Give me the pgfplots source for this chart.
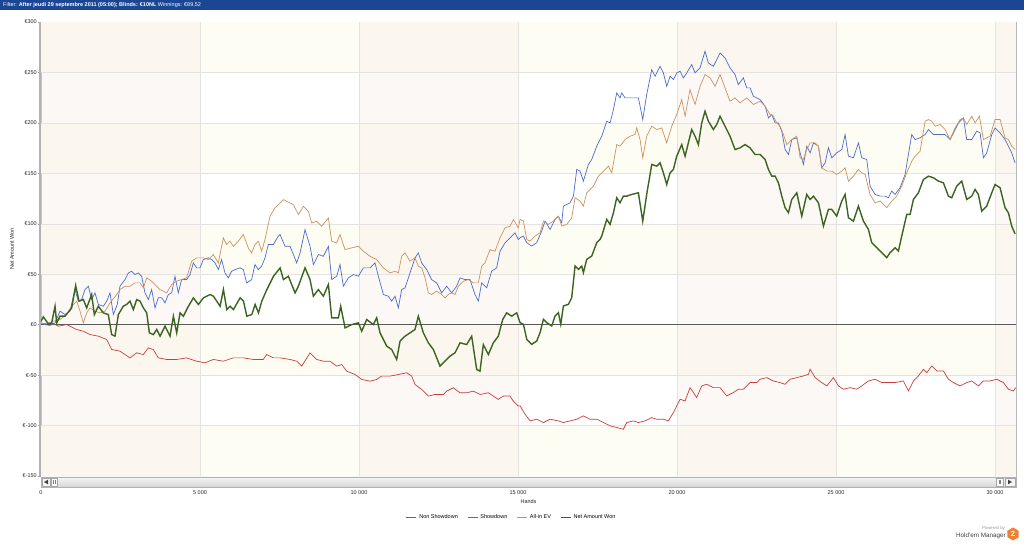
\documentclass[border=0pt]{standalone}
\usepackage{pgfplots}
\pgfplotsset{compat=1.18}
\usepackage{fontspec}
\setmainfont{Liberation Sans}
\definecolor{hdr}{RGB}{26,70,148}
\definecolor{creamband}{RGB}{253,253,243}
\definecolor{pinkcol}{RGB}{247,232,226}
\definecolor{gridc}{RGB}{228,227,226}
\definecolor{cRed}{RGB}{200,62,62}
\definecolor{cBlue}{RGB}{74,108,203}
\definecolor{cOrange}{RGB}{205,145,96}
\definecolor{cGreen}{RGB}{59,100,32}
\definecolor{hmorange}{RGB}{238,128,48}
\begin{document}
\begin{tikzpicture}[x=1pt,y=1pt]
\fill[white] (0,0) rectangle (1024,543);
\fill[hdr] (0,533) rectangle (1024,543);
\node[anchor=west, text=white, font=\fontsize{5.5}{6}\selectfont, inner sep=0] at (3,538) {Filter: \textbf{After jeudi 29 septembre 2011 (05:00); Blinds: €10NL} Winnings: €89,52};
\begin{axis}[
  at={(41pt,67pt)}, anchor=south west, scale only axis,
  width=975pt, height=454pt,
  xmin=0, xmax=30660, ymin=-150, ymax=300,
  scaled x ticks=false, scaled y ticks=false,
  axis line style={draw=black!28, line width=0.8pt},
  xtick pos=bottom, ytick pos=left,
  xtick={0,5000,10000,15000,20000,25000,30000},
  xticklabels={0,{5 000},{10 000},{15 000},{20 000},{25 000},{30 000}},
  ytick={-150,-100,-50,0,50,100,150,200,250,300},
  yticklabels={€-150,€-100,€-50,€0,€50,€100,€150,€200,€250,€300},
  tick align=outside, major tick length=3pt,
  xtick style={draw=none},
  ytick style={draw=black!40, line width=0.5pt},
  ticklabel style={font=\fontsize{5.5}{6}\selectfont, text=black!85},
  xticklabel style={yshift=-8.5pt},
  yticklabel style={inner sep=1pt},
  xlabel={Hands}, ylabel={Net Amount Won},
  label style={font=\fontsize{5.5}{6}\selectfont, text=black!85},
  xlabel style={at={(axis description cs:0.5,-0.0566)}, anchor=center},
  ylabel style={at={(axis description cs:-0.0297,0.5)}, anchor=center},
  legend style={at={(axis description cs:0.4826,-0.0918)}, anchor=center, draw=none, fill=none,
    font=\fontsize{5.5}{6}\selectfont, legend columns=4,
    /tikz/every even column/.append style={column sep=7pt}},
  legend image code/.code={\draw[mark repeat=2,mark phase=2,#1] plot coordinates {(0pt,0pt) (10pt,0pt)};},
  legend image post style={line width=1.6pt},
]
\fill[creamband] (axis cs:0,250) rectangle (axis cs:30660,300);
\fill[creamband] (axis cs:0,150) rectangle (axis cs:30660,200);
\fill[creamband] (axis cs:0,50) rectangle (axis cs:30660,100);
\fill[creamband] (axis cs:0,-50) rectangle (axis cs:30660,0);
\fill[creamband] (axis cs:0,-150) rectangle (axis cs:30660,-100);
\fill[pinkcol, opacity=0.28] (axis cs:0,-150) rectangle (axis cs:5000,300);
\fill[pinkcol, opacity=0.28] (axis cs:10000,-150) rectangle (axis cs:15000,300);
\fill[pinkcol, opacity=0.28] (axis cs:20000,-150) rectangle (axis cs:25000,300);
\fill[pinkcol, opacity=0.28] (axis cs:30000,-150) rectangle (axis cs:30660,300);
\draw[gridc, line width=0.5pt] (axis cs:0,-100) -- (axis cs:30660,-100);
\draw[gridc, line width=0.5pt] (axis cs:0,-50) -- (axis cs:30660,-50);
\draw[gridc, line width=0.5pt] (axis cs:0,50) -- (axis cs:30660,50);
\draw[gridc, line width=0.5pt] (axis cs:0,100) -- (axis cs:30660,100);
\draw[gridc, line width=0.5pt] (axis cs:0,150) -- (axis cs:30660,150);
\draw[gridc, line width=0.5pt] (axis cs:0,200) -- (axis cs:30660,200);
\draw[gridc, line width=0.5pt] (axis cs:0,250) -- (axis cs:30660,250);
\draw[gridc, line width=0.6pt] (axis cs:5000,-150) -- (axis cs:5000,300);
\draw[gridc, line width=0.6pt] (axis cs:10000,-150) -- (axis cs:10000,300);
\draw[gridc, line width=0.6pt] (axis cs:15000,-150) -- (axis cs:15000,300);
\draw[gridc, line width=0.6pt] (axis cs:20000,-150) -- (axis cs:20000,300);
\draw[gridc, line width=0.6pt] (axis cs:25000,-150) -- (axis cs:25000,300);
\draw[gridc, line width=0.6pt] (axis cs:30000,-150) -- (axis cs:30000,300);
\draw[black!65, line width=1.5pt] (axis cs:0,0) -- (axis cs:30660,0);

\addplot[cRed, line width=0.7pt] coordinates {(0,1.1)(388,1.1)(545,-1.5)(807,0.1)(1122,-4.8)(1331,-6.5)(1541,-9.8)(1803,-11.4)(2065,-14.7)(2222,-24.6)(2484,-26.3)(2799,-32.9)(3009,-27.9)(3219,-29.6)(3375,-23)(3532,-24.6)(3689,-32.9)(3951,-34.5)(4266,-34.5)(4580,-32.9)(4895,-36.2)(5157,-37.8)(5419,-34.5)(5733,-36.2)(6047,-32.9)(6362,-32.9)(6676,-34.5)(6991,-34.5)(7095,-29.6)(7305,-32.9)(7517,-32.9)(7831,-34.5)(8041,-36.2)(8198,-41.1)(8460,-27.9)(8670,-34.5)(8879,-36.2)(9089,-36.2)(9299,-41.1)(9456,-39.5)(9613,-46.1)(9875,-49.4)(10085,-54.3)(10347,-56)(10556,-54.3)(10713,-51)(10975,-51)(11237,-49.4)(11499,-47.7)(11657,-51)(11761,-59.3)(11971,-64.2)(12181,-70.8)(12390,-69.2)(12652,-69.2)(12757,-65.9)(12967,-62.6)(13176,-67.5)(13386,-67.5)(13595,-65.9)(13805,-69.2)(14067,-67.5)(14224,-70.8)(14381,-74.1)(14539,-70.8)(14748,-70.8)(14853,-75.8)(15010,-80.7)(15065,-80.5)(15222,-88.8)(15379,-95.4)(15589,-93.7)(15799,-97)(16008,-93.7)(16270,-95.4)(16427,-97)(16637,-95.4)(16847,-93.7)(17056,-90.4)(17266,-93.7)(17475,-93.7)(17685,-97)(17895,-100.3)(18104,-101.9)(18314,-103.6)(18419,-97)(18628,-95.4)(18785,-97)(18995,-95.4)(19205,-92.1)(19362,-93.7)(19571,-93.7)(19729,-95.4)(19886,-87.1)(19991,-80.5)(20095,-73.9)(20253,-75.6)(20410,-62.4)(20515,-67.3)(20619,-72.3)(20777,-60.7)(20934,-59.1)(21143,-62.4)(21353,-62.4)(21563,-70.6)(21772,-67.3)(21929,-64)(22087,-64)(22296,-57.4)(22506,-57.4)(22613,-54.1)(22823,-52.5)(23032,-55.8)(23242,-57.4)(23399,-59.1)(23556,-54.1)(23766,-52.5)(23975,-50.8)(24133,-49.2)(24185,-44.2)(24342,-52.5)(24552,-57.4)(24709,-60.7)(24919,-52.5)(25076,-60.7)(25233,-64)(25443,-62.4)(25652,-64)(25809,-60.7)(26019,-55.8)(26229,-54.1)(26438,-57.4)(26648,-57.4)(26857,-57.4)(27119,-55.8)(27277,-65.7)(27434,-55.8)(27591,-50.8)(27748,-44.2)(27853,-47.5)(28010,-40.9)(28167,-45.9)(28377,-45.9)(28534,-54.1)(28691,-57.4)(28901,-60.7)(29111,-57.4)(29268,-55.8)(29477,-60.7)(29635,-55.8)(29844,-55.8)(30054,-54.1)(30263,-57.4)(30421,-64)(30578,-65.7)(30650,-62.4)};
\addlegendentry{Non Showdown}

\addplot[cBlue, line width=0.7pt] coordinates {(0,1.8)(126,0.1)(283,-0.8)(441,1.8)(598,13.4)(755,10.1)(912,13.4)(1069,34.8)(1174,23.3)(1279,24.9)(1384,34.8)(1489,38.1)(1593,24.9)(1698,31.5)(1803,20)(1960,18.3)(2065,23.3)(2170,31.5)(2275,10.1)(2400,20)(2484,38.1)(2641,44.7)(2746,51.3)(2851,53)(2956,49.7)(3061,51.3)(3165,48)(3270,31.5)(3375,24.9)(3480,34.8)(3585,16.6)(3689,26.6)(3794,26.6)(3899,21.6)(4004,29.9)(4109,31.5)(4213,48)(4318,31.5)(4423,44.7)(4580,44.7)(4685,49.7)(4790,61.2)(4895,56.3)(5000,56.3)(5104,64.5)(5262,66.2)(5366,64.5)(5471,61.2)(5576,54.6)(5681,64.5)(5785,51.3)(5890,46.4)(5995,53)(6100,54.6)(6257,56.3)(6362,54.6)(6467,41.4)(6624,44.7)(6729,59.6)(6833,54.6)(6938,57.9)(7043,66.2)(7148,79.4)(7305,79.4)(7462,87.6)(7517,89.3)(7674,77.7)(7831,77.7)(8041,61.2)(8146,71.1)(8303,94.2)(8460,77.7)(8565,59.6)(8722,69.5)(8879,67.8)(9037,77.7)(9141,44.7)(9299,48)(9403,59.6)(9508,38.1)(9665,46.4)(9823,49.7)(9980,48)(10137,56.3)(10347,56.3)(10504,61.2)(10609,48)(10766,29.9)(10923,28.2)(11028,23.3)(11133,28.2)(11237,16.6)(11342,34.8)(11447,36.5)(11604,51.3)(11761,66.2)(11866,71.1)(11971,61.2)(12128,54.6)(12285,44.7)(12443,41.4)(12600,31.5)(12757,38.1)(12914,31.5)(13071,38.1)(13176,46.4)(13333,44.7)(13491,44.7)(13648,29.9)(13753,23.3)(13857,41.4)(14015,36.5)(14172,53)(14329,56.3)(14434,72.8)(14591,81)(14748,86)(14905,90.9)(15010,84.3)(15065,86.2)(15170,87.8)(15275,81.2)(15432,77.9)(15589,81.2)(15746,92.8)(15851,102.6)(16008,94.4)(16165,104.3)(16270,107.6)(16375,101)(16427,117.5)(16637,120.8)(16742,127.4)(16847,153.8)(16951,152.2)(17056,142.3)(17213,158.8)(17318,163.7)(17475,176.9)(17633,186.8)(17790,201.7)(17895,200)(18000,213.2)(18104,229.7)(18209,224.8)(18261,229.7)(18366,224.8)(18576,224.8)(18785,224.8)(18922,203.3)(19047,228.1)(19205,252.8)(19309,246.2)(19467,256.1)(19571,249.5)(19676,236.3)(19781,246.2)(19886,242.9)(19991,249.5)(20095,251.2)(20200,244.6)(20305,249.5)(20462,257.8)(20567,249.5)(20724,254.5)(20881,271)(20986,259.4)(21143,256.1)(21248,262.7)(21353,269.3)(21510,264.4)(21667,254.5)(21825,247.9)(21929,238)(22087,244.6)(22191,234.7)(22296,234.7)(22401,226.4)(22613,223.1)(22770,216.5)(22875,205)(22980,208.3)(23085,200)(23189,200)(23294,191.8)(23399,173.6)(23504,168.7)(23609,183.5)(23766,185.2)(23871,170.3)(23975,158.8)(24080,176.9)(24185,170.3)(24290,180.2)(24447,176.9)(24552,155.5)(24657,160.4)(24761,175.3)(24866,165.4)(25023,170.3)(25181,173.6)(25285,188.4)(25390,167)(25547,165.4)(25705,180.2)(25809,165.4)(25967,163.7)(26071,137.3)(26229,129.1)(26386,127.4)(26543,127.4)(26648,125.8)(26753,132.4)(26857,129.1)(27015,135.7)(27172,148.9)(27277,168.7)(27381,188.4)(27486,183.5)(27643,185.2)(27801,188.4)(27905,193.4)(28063,188.4)(28272,188.4)(28429,188.4)(28587,183.5)(28744,193.4)(28849,200)(29006,204.9)(29111,183.5)(29268,183.5)(29425,191.8)(29530,190.1)(29635,165.4)(29739,170.3)(29897,188.4)(30001,195)(30159,190.1)(30316,183.5)(30421,176.9)(30525,170.3)(30630,160.4)};
\addlegendentry{Showdown}

\addplot[cOrange, line width=0.7pt] coordinates {(0,1.1)(179,1.1)(388,3.4)(598,5.1)(807,10.1)(965,18.3)(1122,23.3)(1227,13.4)(1331,1.8)(1436,11.7)(1541,16.6)(1698,13.4)(1855,11.7)(2013,13.4)(2170,21.6)(2379,29.9)(2484,34.8)(2641,38.1)(2799,38.1)(2956,41.4)(3114,41.4)(3219,36.5)(3324,46.4)(3480,43.1)(3585,39.8)(3742,34.8)(3951,31.5)(4109,39.8)(4266,43.1)(4423,44.7)(4580,46.4)(4737,62.9)(4895,66.2)(5104,66.2)(5262,64.5)(5419,69.5)(5576,61.2)(5733,86)(5838,79.4)(5943,82.7)(6047,77.7)(6205,82.7)(6362,89.3)(6519,76.1)(6624,71.1)(6729,79.4)(6833,82.7)(6938,72.8)(7043,84.3)(7200,107.4)(7357,115.7)(7517,120.6)(7622,123.9)(7831,120.6)(7936,119)(8093,109.1)(8251,117.3)(8408,112.4)(8513,100.8)(8670,102.5)(8827,97.5)(9037,105.8)(9141,82.7)(9299,81)(9403,89.3)(9561,74.4)(9770,76.1)(9980,77.7)(10137,72.8)(10347,67.8)(10556,64.5)(10766,56.3)(10975,51.3)(11133,53)(11237,51.3)(11342,67.8)(11447,71.1)(11604,62.9)(11761,66.2)(11866,57.9)(11971,56.3)(12076,46.4)(12181,31.5)(12285,29.9)(12443,33.2)(12600,29.9)(12705,26.6)(12809,29.9)(12914,31.5)(13019,29.9)(13124,38.1)(13281,43.1)(13438,44.7)(13595,41.4)(13753,41.4)(13857,57.9)(13962,61.2)(14119,74.4)(14277,72.8)(14434,86)(14591,95.9)(14748,97.5)(14853,104.1)(15010,95.9)(15065,104.3)(15170,102.7)(15275,84.5)(15379,82.9)(15537,87.8)(15694,91.1)(15799,102.7)(15956,99.4)(16113,102.7)(16270,107.6)(16375,97.7)(16532,99.4)(16689,105.9)(16794,125.8)(16951,122.5)(17056,117.5)(17161,130.7)(17371,137.3)(17528,147.2)(17685,152.2)(17842,157.1)(17947,150.5)(18104,178.5)(18209,176.9)(18366,183.5)(18523,186.8)(18681,188.5)(18733,195)(18838,183.5)(18922,165.4)(19047,186.8)(19205,196.7)(19362,193.4)(19519,195)(19676,180.2)(19833,196.7)(19991,208.3)(20148,223.1)(20253,206.6)(20410,233)(20567,218.2)(20724,236.3)(20881,247.9)(21039,244.6)(21196,236.3)(21353,247.9)(21510,234.7)(21667,221.4)(21825,224.8)(21982,219.8)(22191,224.8)(22401,218.2)(22613,221.4)(22770,216.5)(22927,208.3)(23032,206.6)(23137,200)(23242,196.7)(23347,188.5)(23451,178.5)(23609,183.5)(23766,186.8)(23871,165.4)(23975,163.7)(24080,173.6)(24185,180.2)(24342,180.2)(24447,176.9)(24552,155.5)(24709,152.2)(24866,152.2)(25023,148.9)(25181,152.2)(25285,155.5)(25390,142.3)(25547,147.2)(25705,153.8)(25809,150.5)(25914,148.9)(26071,129.1)(26229,120.8)(26386,122.5)(26595,115.9)(26753,122.5)(26910,127.4)(27067,137.3)(27224,150.5)(27381,162)(27486,167)(27643,171.9)(27801,201.7)(27905,203.3)(28010,201.7)(28115,196.7)(28272,198.4)(28429,193.4)(28587,183.5)(28744,195)(28901,203.3)(29006,204.9)(29111,198.4)(29268,206.6)(29373,200)(29509,206.6)(29635,183.5)(29739,185.2)(29844,186.8)(30001,203.3)(30159,203.3)(30316,185.2)(30421,183.5)(30525,176.9)(30630,173.6)};
\addlegendentry{All-in EV}

\addplot[cGreen, line width=1.4pt] coordinates {(0,3.4)(74,7.7)(231,0.8)(336,1.8)(441,18.3)(493,1.8)(598,8.4)(755,8.4)(965,16.6)(1090,38.8)(1195,23.3)(1331,24.9)(1436,16.6)(1593,29.9)(1677,10)(1803,18.3)(1960,11.7)(2117,10)(2222,-9.8)(2327,-11.4)(2432,10)(2589,18.3)(2694,20)(2799,23.3)(2904,15)(3009,24.9)(3114,23.3)(3219,16.6)(3324,11.7)(3408,-8.1)(3534,-9.8)(3639,-4.8)(3744,-11.4)(3901,-1.5)(4058,-11.4)(4163,8.4)(4268,-8.1)(4373,11.7)(4478,8.4)(4636,18.3)(4793,26.6)(4950,20)(5107,26.6)(5317,29.9)(5422,28.2)(5527,23.3)(5632,18.3)(5737,34.8)(5842,15)(5947,18.3)(6052,15)(6262,26.6)(6367,23.3)(6472,8.4)(6629,10)(6734,20)(6839,11.7)(6944,23.3)(7101,34.8)(7311,48)(7519,56.3)(7622,44.7)(7779,48)(7989,31.5)(8093,38.1)(8303,56.3)(8460,44.7)(8565,28.2)(8722,34.8)(8879,28.2)(9037,39.8)(9141,6.7)(9351,6.7)(9424,18.3)(9561,-3.2)(9770,0.1)(9980,1.8)(10085,-6.5)(10242,5.1)(10451,0.1)(10556,6.7)(10661,-8.1)(10871,-21.3)(11028,-24.6)(11185,-34.5)(11290,-16.4)(11447,-11.4)(11604,-8.1)(11761,-4.8)(11866,8.4)(12023,-8.1)(12181,-18)(12338,-24.6)(12547,-41.1)(12705,-36.2)(12862,-31.2)(13019,-27.9)(13176,-18)(13386,-19.7)(13543,-11.4)(13700,-44.4)(13805,-46.1)(13910,-19.7)(14067,-29.6)(14224,-18)(14381,-11.4)(14518,5.1)(14643,11.7)(14801,8.4)(14958,11.7)(15065,2)(15170,0.4)(15275,-14.5)(15432,-19.5)(15589,-16.2)(15694,-7.9)(15799,5.3)(15903,2)(16061,-1.3)(16165,8.6)(16270,11.9)(16344,0.4)(16427,18.5)(16585,20.2)(16689,26.8)(16794,58.1)(16899,54.8)(17004,58.1)(17056,51.5)(17161,64.7)(17318,68)(17475,81.2)(17580,84.5)(17633,87.8)(17790,104.3)(17895,99.4)(18000,110.9)(18104,125.8)(18209,120.8)(18314,127.4)(18419,127.4)(18576,129.1)(18785,130.7)(18922,102.6)(19047,129.1)(19205,158.8)(19362,157.1)(19467,160.4)(19571,150.5)(19676,138.9)(19781,150.5)(19886,153.8)(19991,167)(20148,178.5)(20253,167)(20357,180.2)(20462,193.4)(20567,186.8)(20672,178.5)(20777,200)(20881,211.5)(20986,201.7)(21143,193.4)(21248,198.4)(21353,206.6)(21510,196.7)(21667,186.8)(21825,173.6)(21982,175.3)(22139,178.5)(22296,175.3)(22453,168.7)(22613,168.7)(22770,163.7)(22875,153.8)(22980,147.2)(23085,147.2)(23189,140.6)(23294,127.4)(23399,115.9)(23504,110.9)(23609,124.1)(23766,130.7)(23923,107.6)(24080,129.1)(24185,124.1)(24290,127.4)(24447,120.8)(24604,97.7)(24761,114.2)(24866,114.2)(25023,107.6)(25181,122.5)(25285,129.1)(25390,106)(25547,102.6)(25705,117.5)(25862,102.6)(26019,94.4)(26124,81.2)(26281,76.3)(26438,71.3)(26595,66.4)(26700,71.3)(26857,76.3)(26962,73)(27067,87.8)(27224,109.3)(27329,109.3)(27434,124.1)(27591,130.7)(27748,143.9)(27905,147.2)(28063,145.6)(28220,142.3)(28377,140.6)(28534,127.4)(28639,125.8)(28796,137.3)(28953,142.3)(29111,124.1)(29268,127.4)(29373,134)(29477,129.1)(29582,112.5)(29739,117.5)(29897,130.7)(30001,138.9)(30159,135.7)(30316,115.9)(30421,110.9)(30525,97.7)(30630,90)};
\addlegendentry{Net Amount Won}
\end{axis}
% left frame edge
\draw[black!30, line width=1.6pt] (40.2,67) -- (40.2,521);
% scrollbar
\shade[top color=black!4, bottom color=black!16] (41,56) rectangle (1016,66);
\draw[black!30, line width=0.4pt] (41,56) rectangle (1016,66);
\draw[black!35, fill=black!4, line width=0.4pt] (42,57) rectangle (50,65);
\fill[black!75] (44,61) -- (48,63.3) -- (48,58.7) -- cycle;
\draw[black!35, fill=black!2, line width=0.4pt] (51,57) rectangle (57,65);
\draw[black!50, line width=0.3pt] (53.5,59) -- (53.5,63) (54.8,59) -- (54.8,63);
\draw[black!35, fill=black!2, line width=0.4pt] (996,57) rectangle (1003,65);
\draw[black!50, line width=0.3pt] (998.8,59) -- (998.8,63) (1000.1,59) -- (1000.1,63);
\draw[black!35, fill=black!4, line width=0.4pt] (1005,57) rectangle (1015,65);
\fill[black!75] (1012,61) -- (1008,63.3) -- (1008,58.7) -- cycle;
% logo
\node[anchor=east, font=\fontsize{4.3}{5}\selectfont, text=black!40, inner sep=0] at (1005,15) {Powered by};
\node[anchor=east, font=\fontsize{6.3}{7}\selectfont, text=black!75, inner sep=0] at (1006,7.5) {Hold'em Manager};
\fill[hmorange] (1018.6,12.25) -- (1013,15.5) -- (1007.4,12.25) -- (1007.4,5.75) -- (1013,2.5) -- (1018.6,5.75) -- cycle;
\node[text=white, font=\fontsize{7.5}{8}\selectfont\bfseries, inner sep=0] at (1013,9) {2};
\end{tikzpicture}
\end{document}
